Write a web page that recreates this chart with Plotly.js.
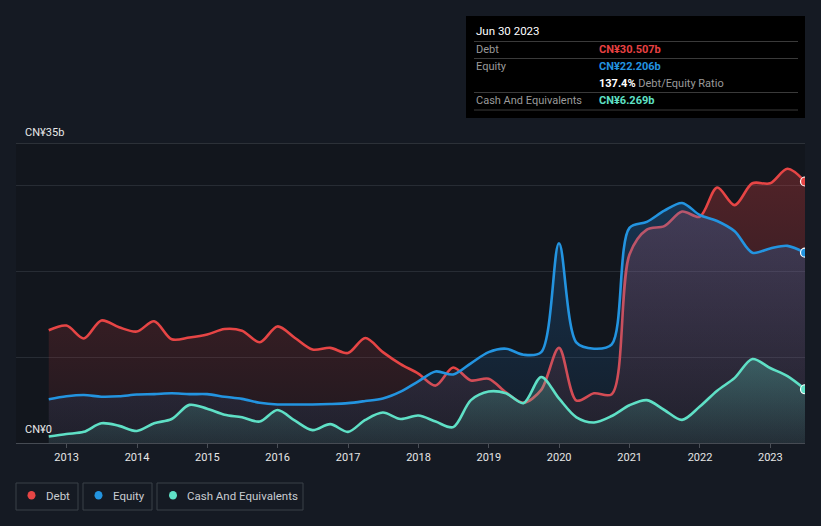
<!DOCTYPE html>
<html>
<head>
<meta charset="utf-8">
<script src="https://cdn.plot.ly/plotly-3.0.1.min.js"></script>
<style>
html,body{margin:0;padding:0;background:#151a23;}
#chart{width:821px;height:526px;}
</style>
</head>
<body>
<div id="chart"></div>
<script>
// ---- data (CN¥ billions, quarterly) ----
const dates = ['2012-09-30','2012-12-31','2013-03-31','2013-06-30','2013-09-30','2013-12-31','2014-03-31','2014-06-30','2014-09-30','2014-12-31','2015-03-31','2015-06-30','2015-09-30','2015-12-31','2016-03-31','2016-06-30','2016-09-30','2016-12-31','2017-03-31','2017-06-30','2017-09-30','2017-12-31','2018-03-31','2018-06-30','2018-09-30','2018-12-31','2019-03-31','2019-06-30','2019-09-30','2019-12-31','2020-03-31','2020-06-30','2020-09-30','2020-12-31','2021-03-31','2021-06-30','2021-09-30','2021-12-31','2022-03-31','2022-06-30','2022-09-30','2022-12-31','2023-03-31','2023-06-30'];
const debt = [13.15,13.7,12.2,14.3,13.5,13.0,14.2,12.1,12.3,12.65,13.3,13.1,11.75,13.6,12.25,10.9,11.1,10.5,12.25,10.6,9.2,8.1,6.7,8.8,7.3,7.5,5.9,4.7,6.2,11.1,4.95,5.8,5.7,22.0,24.9,25.3,27.0,26.4,29.8,27.75,30.3,30.3,32.0,30.507];
const equity = [5.1,5.45,5.6,5.4,5.45,5.65,5.7,5.8,5.7,5.7,5.4,5.15,4.7,4.5,4.5,4.5,4.55,4.65,4.9,5.2,6.0,7.2,8.35,8.0,9.3,10.6,11.0,10.3,10.6,23.3,11.7,11.0,11.5,25.1,25.8,27.1,28.0,26.6,25.9,24.7,22.2,22.7,23.0,22.206];
const cash = [0.75,1.05,1.3,2.3,2.0,1.4,2.3,2.8,4.45,4.0,3.3,3.0,2.5,3.85,2.6,1.5,2.2,1.3,2.7,3.55,2.8,3.2,2.5,1.85,5.0,6.0,5.8,4.65,7.7,5.2,3.0,2.4,3.15,4.4,5.0,3.85,2.7,4.25,6.1,7.6,9.8,8.75,7.8,6.269];
const seriesNames = ['Debt','Equity','Cash And Equivalents'];
const yTickLabels = ['CN¥0','CN¥35b'];
const tooltipDate = 'Jun 30 2023';

const COL = {debt:'#e64545', equity:'#2394e0', cash:'#5fe0c6'};
const W = 821, H = 526, ML = 16, MR = 16, MT = 143, MB = 83;
const PW = W - ML - MR, PH = H - MT - MB;
const px = x => (x - ML) / PW;
const py = y => (H - MB - y) / PH;
const FONT = 'Roboto, "Open Sans", sans-serif';

const last = dates.length - 1;

function lineTrace(y, color, grad, gstop) {
  return {
    x: dates, y: y, type: 'scatter', mode: 'lines',
    line: {color: color, width: 2.6, shape: 'spline', smoothing: 0.9},
    fill: 'tozeroy',
    fillgradient: {type: 'vertical', start: 0, stop: gstop, colorscale: grad},
    hoverinfo: 'skip', showlegend: false
  };
}
function endMarker(y, color) {
  return {
    x: [dates[last]], y: [y[last]], type: 'scatter', mode: 'markers',
    marker: {size: 9, color: color, line: {color: '#ffffff', width: 1.2}},
    hoverinfo: 'skip', showlegend: false
  };
}

const traces = [
  lineTrace(debt, COL.debt, [[0,'rgba(230,65,66,0.06)'],[1,'rgba(230,65,66,0.32)']], 35),
  lineTrace(equity, COL.equity, [[0,'rgba(40,140,230,0.06)'],[1,'rgba(40,140,230,0.30)']], 35),
  lineTrace(cash, COL.cash, [[0,'rgba(90,220,195,0.08)'],[1,'rgba(90,220,195,0.34)']], 12),
  endMarker(debt, COL.debt),
  endMarker(equity, COL.equity),
  endMarker(cash, COL.cash)
];

const shapes = [
  {type:'line', xref:'paper', yref:'y', x0:0, x1:1, y0:35, y1:35, line:{color:'#474c54', width:1}, layer:'below'},
  // tooltip box
  {type:'rect', xref:'paper', yref:'paper', x0:px(466), x1:px(805), y0:py(118), y1:py(16), fillcolor:'#000000', line:{width:0}},
];
[41.5, 58.5, 92.5, 110].forEach(yy => shapes.push({type:'line', xref:'paper', yref:'paper', x0:px(474), x1:px(798), y0:py(yy), y1:py(yy), line:{color:'#3a3a3a', width:1}}));

// legend boxes
const legendBoxes = [[16,78],[83,152],[157,303]];
const legendDots = [31.5, 98.5, 173];
const legendCols = [COL.debt, COL.equity, COL.cash];
legendBoxes.forEach(b => shapes.push({type:'rect', xref:'paper', yref:'paper', x0:px(b[0]), x1:px(b[1]), y0:py(510), y1:py(483), line:{color:'#3b4049', width:1}, fillcolor:'rgba(0,0,0,0)'}));
legendDots.forEach((d,i) => shapes.push({type:'circle', xref:'paper', yref:'paper', x0:px(d-4), x1:px(d+4), y0:py(499.5), y1:py(491), fillcolor:legendCols[i], line:{width:0}}));

function ann(x, y, text, color, size, extra) {
  return Object.assign({xref:'paper', yref:'paper', x:px(x), y:py(y), text:text, showarrow:false, xanchor:'left', yanchor:'middle', font:{family:FONT, size:size||11, color:color}}, extra||{});
}
const ratio = (debt[last] / equity[last] * 100).toFixed(1) + '%';
const fmt = v => 'CN¥' + v.toFixed(3) + 'b';
const annotations = [
  {xref:'paper', yref:'y', x:0, y:35, xanchor:'left', yanchor:'bottom', xshift:7, yshift:2, text:yTickLabels[1], showarrow:false, font:{family:FONT, size:11, color:'#e8e8e8'}},
  {xref:'paper', yref:'y', x:0, y:0, xanchor:'left', yanchor:'bottom', xshift:7, yshift:5, text:yTickLabels[0], showarrow:false, font:{family:FONT, size:11, color:'#e8e8e8'}},
  ann(474, 31, tooltipDate, '#ffffff', 11.5),
  ann(474, 49.5, 'Debt', '#9a9a9a', 11),
  ann(597, 49.5, '<b>' + fmt(debt[last]) + '</b>', '#e84142', 11),
  ann(474, 66.5, 'Equity', '#9a9a9a', 11),
  ann(597, 66.5, '<b>' + fmt(equity[last]) + '</b>', '#2394e0', 11),
  ann(597, 83.5, '<b><span style="color:#ffffff">' + ratio + '</span></b> Debt/Equity Ratio', '#9a9a9a', 11),
  ann(474, 100.5, 'Cash And Equivalents', '#9a9a9a', 11),
  ann(597, 100.5, '<b>' + fmt(cash[last]) + '</b>', '#5fe0c6', 11),
];
const legendTextX = [44, 111, 185];
seriesNames.forEach((n,i) => annotations.push(ann(legendTextX[i], 495.5, n, '#c9ccd1', 11.5)));

const layout = {
  width: W, height: H,
  margin: {l: ML, r: MR, t: MT, b: MB},
  paper_bgcolor: '#151a23',
  plot_bgcolor: '#12161d',
  showlegend: false,
  font: {family: FONT, color: '#e0e0e0', size: 11},
  xaxis: {
    type: 'date', range: ['2012-04-13', '2023-06-30'],
    tick0: '2013-01-01', dtick: 'M12', tickformat: '%Y',
    ticks: 'outside', ticklen: 4, tickcolor: '#4a4f57',
    showline: true, linecolor: '#464b53', linewidth: 1,
    showgrid: false, zeroline: false,
    tickfont: {family: FONT, size: 11, color: '#e6e6e6'}
  },
  yaxis: {
    range: [0, 35], tickvals: [0, 10, 20, 30], showticklabels: false,
    gridcolor: '#272c34', gridwidth: 1, zeroline: false, showline: false, ticks: ''
  },
  shapes: shapes,
  annotations: annotations
};

Plotly.newPlot('chart', traces, layout, {displayModeBar: false, staticPlot: true});
</script>
</body>
</html>
